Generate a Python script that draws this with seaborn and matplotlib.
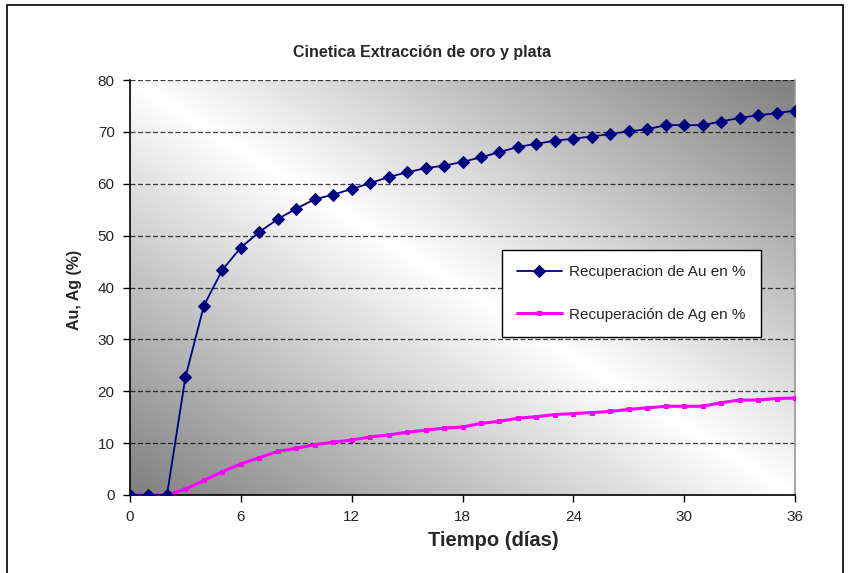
import numpy as np
import pandas as pd
import matplotlib
matplotlib.use("Agg")
import matplotlib.pyplot as plt
import seaborn as sns
from matplotlib.patches import Rectangle

dias = list(range(0, 37))
au = [0, 0, 0, 22.7, 36.5, 43.4, 47.7, 50.7, 53.2, 55.2, 57.0, 57.9, 59.0, 60.1,
      61.3, 62.2, 63.0, 63.5, 64.2, 65.1, 66.1, 67.1, 67.7, 68.3, 68.7, 69.1,
      69.6, 70.1, 70.5, 71.3, 71.3, 71.3, 72.0, 72.7, 73.2, 73.6, 74.1]
ag = [0, 0, 0, 1.15, 2.8, 4.5, 6.0, 7.2, 8.4, 9.0, 9.7, 10.2, 10.6, 11.2, 11.6,
      12.1, 12.5, 12.9, 13.1, 13.8, 14.2, 14.8, 15.1, 15.5, 15.7, 15.9, 16.1,
      16.5, 16.8, 17.1, 17.1, 17.1, 17.8, 18.3, 18.3, 18.6, 18.7]
xticks = [0, 6, 12, 18, 24, 30, 36]
yticks = [0, 10, 20, 30, 40, 50, 60, 70, 80]
label_au = "Recuperacion de Au en %"
label_ag = "Recuperación de Ag en %"
title = "Cinetica Extracción de oro y plata"
xlabel = "Tiempo (días)"
ylabel = "Au, Ag (%)"

df = pd.DataFrame({"dias": dias, "au": au, "ag": ag})

sns.set_theme(style="white")
plt.rcParams['font.family'] = ['Liberation Sans', 'DejaVu Sans']

fig = plt.figure(figsize=(8.48, 5.73), dpi=100)
fig.patch.set_facecolor("white")
W, H = 848, 573
ax = fig.add_axes([130 / W, 1 - 495 / H, 665 / W, 415 / H])

# diagonal gradient background
n = 400
xx, yy = np.meshgrid(np.linspace(0, 1, n), np.linspace(1, 0, n))
v = np.abs(xx - (1 - yy))
g = 1 - 0.5 * v
img = np.dstack([g, g, g])
ax.imshow(img, extent=[0, 1, 0, 1], transform=ax.transAxes, aspect="auto",
          zorder=0, origin="upper", interpolation="bilinear")

sns.lineplot(data=df, x="dias", y="au", ax=ax, color="#000080", marker="D",
             markersize=6, markeredgecolor="#000080", linewidth=1.3,
             label=label_au, zorder=4)
sns.lineplot(data=df, x="dias", y="ag", ax=ax, color="#FF00FF", marker="s",
             markersize=3, markeredgecolor="#FF00FF", linewidth=2.2,
             label=label_ag, zorder=3)

ax.set_xlim(0, 36)
ax.set_ylim(0, 80)
ax.set_xticks(xticks)
ax.set_yticks(yticks)
ax.set_xticklabels([str(t) for t in xticks], fontsize=11)
ax.set_yticklabels([str(t) for t in yticks], fontsize=11)
ax.tick_params(axis="both", direction="out", length=5, width=1, color="black",
               bottom=True, left=True, pad=6)
for y in yticks[1:]:
    ax.axhline(y, color="black", linestyle=(0, (4, 2)), linewidth=0.9, alpha=0.75, zorder=2)
ax.set_xlabel("")
ax.set_ylabel("")
ax.spines["top"].set_visible(False)
ax.spines["right"].set_color("#9a9a9a")
ax.spines["left"].set_color("black")
ax.spines["bottom"].set_color("black")
ax.spines["left"].set_linewidth(1.2)
ax.spines["bottom"].set_linewidth(1.2)
ax.grid(False)

leg = ax.legend(loc="upper left", bbox_to_anchor=((502 - 130) / 665, (495 - 250) / 415),
                fontsize=11, frameon=True, fancybox=False, edgecolor="black",
                framealpha=1, labelspacing=1.85, handlelength=2.9, handletextpad=0.5,
                borderpad=1.0, borderaxespad=0)
leg.get_frame().set_linewidth(1.0)

fig.text(422 / W, 1 - 52 / H, title, ha="center", va="center", fontsize=11.5,
         fontweight="bold")
fig.text(493 / W, 1 - 541 / H, xlabel, ha="center", va="center", fontsize=14.5,
         fontweight="bold")
fig.text(75 / W, 1 - 290 / H, ylabel, ha="center", va="center", fontsize=11.5,
         fontweight="bold", rotation=90)

fig.patches.append(Rectangle((7 / W, -0.01), (843 - 7) / W, 1.01 - 5 / H,
                             transform=fig.transFigure, fill=False,
                             edgecolor="black", linewidth=1.2))

fig.savefig("out.png", dpi=100, facecolor="white")
